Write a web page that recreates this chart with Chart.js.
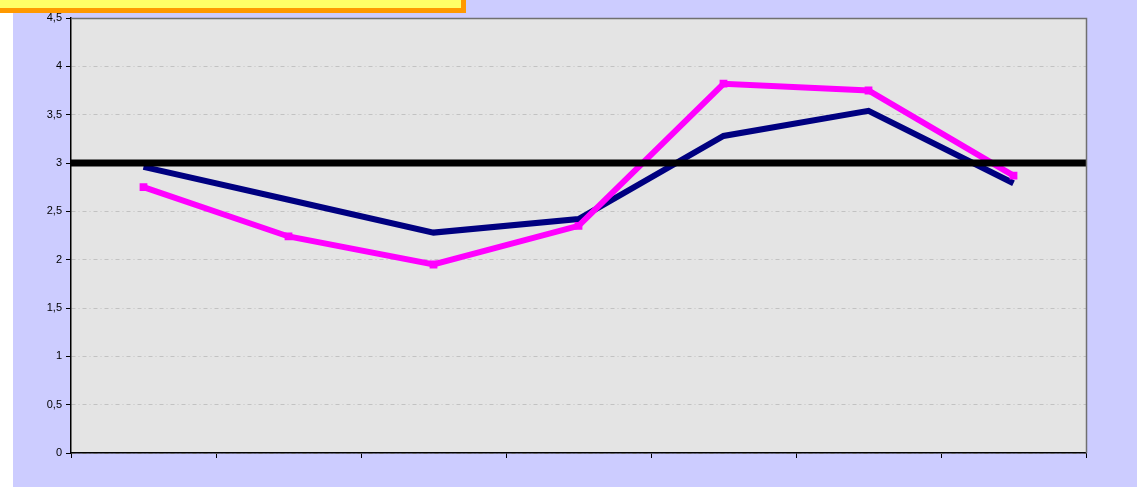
<!DOCTYPE html>
<html>
<head>
<meta charset="utf-8">
<script src="https://cdn.jsdelivr.net/npm/chart.js@4.4.1/dist/chart.umd.min.js"></script>
<style>
  html, body { margin: 0; padding: 0; background: #fff; }
  #wrap { position: relative; width: 1137px; height: 487px; overflow: hidden; }
  #box {
    position: absolute; left: -10px; top: -10px; width: 471px; height: 18px;
    background: #ffff66; border-right: 5px solid #ff9900; border-bottom: 5px solid #ff9900;
  }
</style>
</head>
<body>
<div id="wrap">
  <canvas id="grafico" width="1137" height="487"></canvas>
  <div id="box"></div>
</div>
<script>
  var categorias = ['', '', '', '', '', '', ''];
  var serieAzul = [2.96, 2.62, 2.28, 2.42, 3.28, 3.54, 2.79];
  var serieRosa = [2.75, 2.24, 1.95, 2.35, 3.82, 3.75, 2.87];
  var lineaRef = 3;
  var ticksY = [0, 0.5, 1, 1.5, 2, 2.5, 3, 3.5, 4, 4.5];

  // fondo lila + franja blanca + fondo gris del area de trazado
  var fondo = {
    id: 'fondo',
    beforeDraw: function (chart) {
      var c = chart.ctx, a = chart.chartArea;
      c.save();
      c.fillStyle = '#ffffff';
      c.fillRect(0, 0, chart.width, chart.height);
      c.fillStyle = '#ccccff';
      c.fillRect(13, 0, chart.width - 13, chart.height);
      c.fillStyle = '#e4e4e4';
      c.fillRect(a.left, a.top, a.right - a.left, a.bottom - a.top);
      c.restore();
    },
    afterDatasetsDraw: function (chart) {
      var c = chart.ctx, a = chart.chartArea;
      c.save();
      c.strokeStyle = '#707070';
      c.lineWidth = 1.5;
      c.beginPath();
      c.moveTo(a.left, a.top + 0.5);
      c.lineTo(a.right + 0.5, a.top + 0.5);
      c.lineTo(a.right + 0.5, a.bottom);
      c.stroke();
      c.restore();
    }
  };

  var ctx = document.getElementById('grafico');
  new Chart(ctx, {
    type: 'line',
    data: {
      labels: categorias,
      datasets: [{
        data: serieAzul,
        borderColor: '#000080',
        backgroundColor: '#000080',
        borderWidth: 6,
        pointRadius: 0,
        tension: 0,
        fill: false,
        order: 2
      }, {
        data: serieRosa,
        borderColor: '#ff00ff',
        backgroundColor: '#ff00ff',
        borderWidth: 6,
        pointStyle: 'rect',
        pointRadius: 5.5,
        pointBorderWidth: 0,
        tension: 0,
        fill: false,
        order: 1
      }, {
        data: [{ x: 0, y: lineaRef }, { x: 1, y: lineaRef }],
        xAxisID: 'xRef',
        borderColor: '#000000',
        borderWidth: 7,
        pointRadius: 0,
        fill: false,
        order: 0
      }]
    },
    options: {
      responsive: false,
      animation: false,
      layout: { padding: { left: 0, right: 51, top: 18, bottom: 0 } },
      plugins: { legend: { display: false }, tooltip: { enabled: false } },
      scales: {
        x: {
          offset: true,
          grid: {
            display: true, drawOnChartArea: false, drawTicks: true,
            tickLength: 5, color: '#000000', offset: true
          },
          border: { color: '#000000', width: 1.5 },
          ticks: { display: true, font: { size: 1 } },
          afterFit: function (s) { s.height = 34; }
        },
        xRef: {
          type: 'linear', min: 0, max: 1, display: false
        },
        y: {
          min: 0, max: 4.5,
          afterBuildTicks: function (s) { s.ticks = ticksY.map(function (v) { return { value: v }; }); },
          afterFit: function (s) { s.width = 71; },
          grid: {
            color: '#c2c2c2', lineWidth: 1, tickLength: 5,
            tickColor: '#000000', tickBorderDash: [0, 0]
          },
          border: { color: '#000000', width: 1.5, dash: [4, 3, 1, 3] },
          ticks: {
            color: '#000000', padding: 4,
            font: { family: 'Liberation Sans, Arial', size: 11 },
            callback: function (v) { return String(v).replace('.', ','); }
          }
        }
      }
    },
    plugins: [fondo]
  });
</script>
</body>
</html>
